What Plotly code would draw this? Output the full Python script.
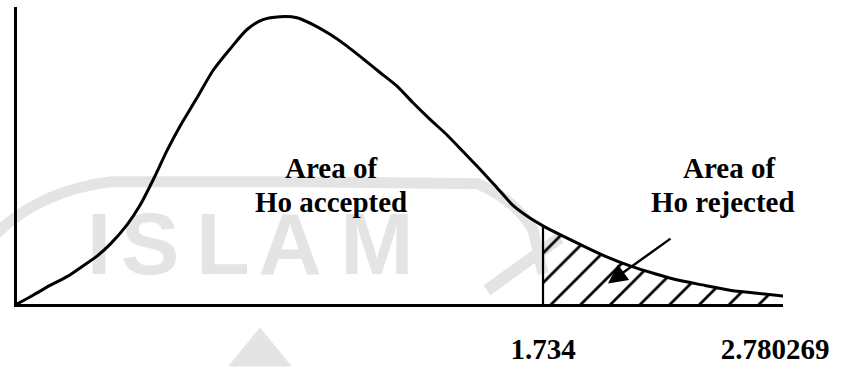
import plotly.graph_objects as go

# Density curve of the test statistic (schematic horizontal scale 0-100)
curve_x = [0.0, 2.09, 4.31, 6.53, 8.62, 10.44, 12.14, 14.36, 16.06, 18.02, 19.58,
           21.28, 23.50, 25.59, 27.81, 30.03, 32.11, 34.33, 36.55, 38.64, 40.86,
           43.08, 45.17, 47.39, 49.61, 51.70, 53.92, 56.14, 58.22, 60.44, 62.66,
           64.75, 66.97, 68.67, 70.89, 73.50, 76.76, 80.03, 83.29, 86.55, 89.82,
           93.08, 96.61, 100.26]
curve_y = [0.0, 2.96, 6.25, 9.21, 12.83, 16.12, 20.07, 26.64, 33.22, 43.09, 51.64,
           59.87, 69.41, 78.62, 85.86, 92.43, 95.72, 96.71, 96.38, 94.08, 90.79,
           86.84, 82.57, 77.96, 73.36, 67.76, 62.17, 56.91, 51.32, 45.39, 39.14,
           33.22, 28.95, 26.32, 23.36, 20.07, 16.12, 12.83, 10.20, 7.89, 6.25,
           4.61, 3.62, 2.63]

# Critical value and test statistic positions on the axis
crit_x = 68.67
crit_label = "1.734"
stat_x = 98.96
stat_label = "2.780269"

# Region labels
accept_lines = ["Area of", "Ho accepted"]
reject_lines = ["Area of", "Ho rejected"]

# Watermark letters
wm_letters = ["I", "S", "L", "A", "M"]
wm_x = [10.70, 17.36, 26.89, 35.64, 47.00]
wm_y = [17.6] * 5

SERIF = "Liberation Serif"
WM = "#e4e4e4"

crit_y = curve_y[curve_x.index(crit_x)]
tail_x = [x for x in curve_x if x >= crit_x]
tail_y = [y for x, y in zip(curve_x, curve_y) if x >= crit_x]

fig = go.Figure()

# Faint background watermark (drawn first so everything sits on top of it)
fig.add_trace(go.Scatter(
    x=wm_x, y=wm_y, mode="text", text=["<b>%s</b>" % c for c in wm_letters],
    textposition="middle center", cliponaxis=False,
    textfont=dict(family="Liberation Sans", size=88, color=WM),
    hoverinfo="skip", showlegend=False))

# Hatched rejection region
fig.add_trace(go.Scatter(
    x=tail_x, y=tail_y, mode="lines", line=dict(width=0, shape="spline", smoothing=0.7),
    fill="tozeroy", fillcolor="rgba(0,0,0,0)",
    fillpattern=dict(shape="/", size=21, solidity=0.13, fgcolor="black", fgopacity=1),
    hoverinfo="skip", showlegend=False))

# Density curve
fig.add_trace(go.Scatter(
    x=curve_x, y=curve_y, mode="lines",
    line=dict(color="black", width=3, shape="spline", smoothing=0.7),
    hoverinfo="skip", showlegend=False))

# Critical value boundary
fig.add_trace(go.Scatter(
    x=[crit_x, crit_x], y=[0, crit_y], mode="lines",
    line=dict(color="black", width=2.2), hoverinfo="skip", showlegend=False))

annotations = []
# Region text
for t, yv in zip(accept_lines, [45.9, 34.4]):
    annotations.append(dict(x=41.0, y=yv, xref="x", yref="y", text="<b>%s</b>" % t,
                            showarrow=False, xanchor="center", yanchor="middle",
                            font=dict(family=SERIF, size=29, color="black")))
for t, yv, xv in zip(reject_lines, [45.9, 34.4], [93.0, 92.2]):
    annotations.append(dict(x=xv, y=yv, xref="x", yref="y", text="<b>%s</b>" % t,
                            showarrow=False, xanchor="center", yanchor="middle",
                            font=dict(family=SERIF, size=29, color="black")))
# Arrow pointing into the rejection region
annotations.append(dict(x=77.15, y=6.91, ax=85.51, ay=22.37, xref="x", yref="y",
                        axref="x", ayref="y", text="", showarrow=True,
                        arrowhead=2, arrowsize=1.6, arrowwidth=2.4, arrowcolor="black",
                        standoff=0))


def px(xp, yp):
    return (xp - 17) / 766, (311 - yp) / 304


arc_pts = [(-5, 240), (40, 195), (110, 186), (300, 186), (478, 188), (515, 204), (533, 235), (543, 280)]
p = [px(*q) for q in arc_pts]
arc_path = ("M {:.4f},{:.4f} Q {:.4f},{:.4f} {:.4f},{:.4f} L {:.4f},{:.4f} L {:.4f},{:.4f} "
            "Q {:.4f},{:.4f} {:.4f},{:.4f} Q {:.4f},{:.4f} {:.4f},{:.4f}").format(
    p[0][0], p[0][1], p[1][0], p[1][1], p[2][0], p[2][1], p[3][0], p[3][1], p[4][0], p[4][1],
    p[5][0], p[5][1], p[6][0], p[6][1], p[6][0], p[6][1], p[7][0], p[7][1])
s1 = px(487, 297)
s2 = px(560, 243)
t1, t2, t3 = px(260, 335), px(228, 375), px(292, 375)

shapes = [
    dict(type="path", path=arc_path, xref="paper", yref="paper",
         line=dict(color=WM, width=11), layer="below"),
    dict(type="line", x0=s1[0], y0=s1[1], x1=s2[0], y1=s2[1], xref="paper", yref="paper",
         line=dict(color=WM, width=12), layer="below"),
    dict(type="path", path="M {:.4f},{:.4f} L {:.4f},{:.4f} L {:.4f},{:.4f} Z".format(
        t1[0], t1[1], t2[0], t2[1], t3[0], t3[1]), xref="paper", yref="paper",
         fillcolor=WM, line=dict(width=0), layer="below"),
]

fig.update_layout(
    width=844, height=372,
    margin=dict(l=17, r=61, t=7, b=61),
    paper_bgcolor="white", plot_bgcolor="rgba(0,0,0,0)",
    annotations=annotations, shapes=shapes, showlegend=False,
)
fig.update_xaxes(range=[0, 100], showline=True, linewidth=3, linecolor="black",
                 showgrid=False, zeroline=False, ticks="",
                 tickvals=[crit_x, stat_x], ticktext=["<b>%s</b>" % crit_label, "<b>%s</b>" % stat_label],
                 tickfont=dict(family=SERIF, size=29, color="black"),
                 ticklabelstandoff=17)
fig.update_yaxes(range=[0, 100], showline=True, linewidth=3, linecolor="black",
                 showgrid=False, zeroline=False, showticklabels=False, ticks="")

fig.write_html("out.html")
